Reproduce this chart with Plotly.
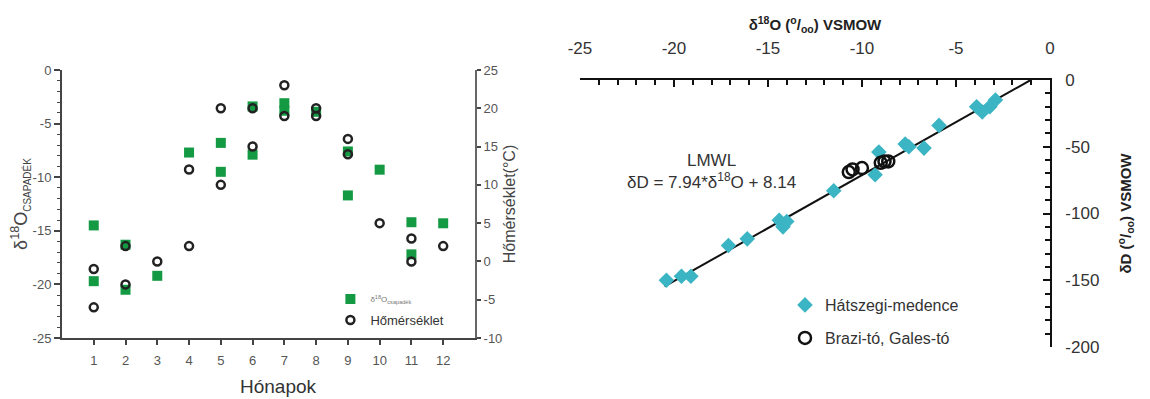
import plotly.graph_objects as go

# ---- Left chart data ----
month_o18 = [1, 1, 2, 2, 3, 4, 5, 5, 6, 6, 7, 7, 8, 9, 9, 10, 11, 11, 12]
o18_values = [-14.5, -19.7, -16.3, -20.5, -19.2, -7.7, -6.8, -9.5, -3.4, -7.9,
              -3.1, -3.8, -3.9, -7.6, -11.7, -9.3, -14.2, -17.2, -14.3]
month_temp = [1, 1, 2, 2, 3, 4, 4, 5, 5, 6, 6, 7, 7, 8, 8, 9, 9, 10, 11, 11, 12]
temp_values = [-1, -6, 2, -3, 0, 2, 12, 20, 10, 20, 15, 23, 19, 20, 19, 16, 14, 5, 3, 0, 2]
month_ticks = list(range(1, 13))

# ---- Right chart data ----
hatszeg_o18 = [-20.4, -19.6, -19.1, -17.1, -16.1, -14.4, -14.2, -14.0, -11.5, -9.3,
               -9.1, -7.7, -7.5, -6.7, -5.9, -3.9, -3.6, -3.2, -2.9]
hatszeg_dD = [-150, -147, -147, -124, -119, -105, -110, -106, -83, -71,
              -54, -48, -50, -51, -34, -20, -24, -20, -15]
brazi_o18 = [-10.7, -10.5, -10.0, -9.0, -8.8, -8.6]
brazi_dD = [-69, -67, -66, -62, -61, -61]
lmwl_slope = 7.94
lmwl_intercept = 8.14
lmwl_x = [-20.5, -1.03]
lmwl_y = [lmwl_slope * v + lmwl_intercept for v in lmwl_x]

x3_ticks = [-25, -20, -15, -10, -5, 0]
y3_ticks = [0, -50, -100, -150, -200]
y1_ticks = [0, -5, -10, -15, -20, -25]
y2_ticks = [25, 20, 15, 10, 5, 0, -5, -10]

FONT = "Liberation Sans, Arial, sans-serif"
GRAY = "#555555"

fig = go.Figure()

fig.add_trace(go.Scatter(
    x=month_o18, y=o18_values, mode="markers", xaxis="x", yaxis="y",
    name="δ<sup>18</sup>O<sub>csapadék</sub>", legend="legend",
    marker=dict(symbol="square", size=10, color="#139a43", line=dict(width=0)),
))
fig.add_trace(go.Scatter(
    x=month_temp, y=temp_values, mode="markers", xaxis="x", yaxis="y2",
    name="Hőmérséklet", legend="legend2",
    marker=dict(symbol="circle-open", size=8, color="#222222", line=dict(width=2.5)),
))

fig.add_trace(go.Scatter(
    x=lmwl_x, y=lmwl_y, mode="lines", xaxis="x3", yaxis="y3",
    line=dict(color="#111111", width=2), showlegend=False,
))
fig.add_trace(go.Scatter(
    x=hatszeg_o18, y=hatszeg_dD, mode="markers", xaxis="x3", yaxis="y3",
    name="Hátszegi-medence", legend="legend3",
    marker=dict(symbol="diamond", size=12, color="#3bb5c3", line=dict(width=0)),
))
fig.add_trace(go.Scatter(
    x=brazi_o18, y=brazi_dD, mode="markers", xaxis="x3", yaxis="y3",
    name="Brazi-tó, Gales-tó", legend="legend4",
    marker=dict(symbol="circle-open", size=12, color="#111111", line=dict(width=2.5)),
))

axis_common = dict(showgrid=False, zeroline=False, showline=True, automargin=False)

fig.update_layout(
    width=1150, height=399,
    margin=dict(l=0, r=0, t=0, b=0),
    paper_bgcolor="white", plot_bgcolor="white",
    font=dict(family=FONT, color="#333333"),
    xaxis=dict(
        **axis_common, domain=[0.0539, 0.413], range=[0, 13],
        tickvals=month_ticks, ticktext=[str(m) for m in month_ticks],
        ticks="outside", ticklen=5, tickwidth=1.5, tickcolor="#444",
        linecolor="#444", linewidth=2, anchor="y",
        tickfont=dict(size=13, color=GRAY),
        ticklabelstandoff=4,
    ),
    yaxis=dict(
        **axis_common, domain=[0.1529, 0.8246], range=[-25, 0],
        tickvals=y1_ticks, ticktext=[str(v) for v in y1_ticks],
        ticks="outside", ticklen=6, tickwidth=1.5, tickcolor="#444",
        minor=dict(dtick=1, ticks="outside", ticklen=3, tickcolor="#444", tickwidth=1),
        linecolor="#444", linewidth=2, anchor="x",
        tickfont=dict(size=13, color=GRAY),
        title=dict(text="δ<sup>18</sup>O<sub><span style='font-size:10px'>CSAPADÉK</span></sub>",
                   font=dict(size=18, color="#444"), standoff=0),
    ),
    yaxis2=dict(
        **axis_common, range=[-10, 25], overlaying="y", side="right", anchor="x",
        tickvals=y2_ticks, ticktext=[str(v) for v in y2_ticks],
        ticks="outside", ticklen=4, tickwidth=1.5, tickcolor="#444",
        linecolor="#666", linewidth=2,
        tickfont=dict(size=13, color=GRAY),
        title=dict(text="Hőmérséklet(°C)", font=dict(size=16, color="#444"), standoff=2),
    ),
    xaxis3=dict(
        **axis_common, domain=[0.5043, 0.913], range=[-25, 0], side="top", anchor="y3",
        tickvals=x3_ticks, ticktext=[str(v) for v in x3_ticks],
        ticks="inside", ticklen=7, tickwidth=2, tickcolor="#111",
        minor=dict(dtick=1, ticks="inside", ticklen=5, tickcolor="#111", tickwidth=1.5),
        linecolor="#111", linewidth=2,
        tickfont=dict(size=17, color="#333"),
        ticklabelstandoff=17,
        title=dict(text="<b>δ<sup>18</sup>O (<sup>o</sup>/<sub>oo</sub>) VSMOW</b>",
                   font=dict(size=15, color="#222"), standoff=5),
    ),
    yaxis3=dict(
        **axis_common, domain=[0.1303, 0.7995], range=[-200, 0], side="right", anchor="x3",
        tickvals=y3_ticks, ticktext=[str(v) for v in y3_ticks],
        ticks="inside", ticklen=7, tickwidth=2, tickcolor="#111",
        minor=dict(dtick=10, ticks="inside", ticklen=5, tickcolor="#111", tickwidth=1.5),
        linecolor="#111", linewidth=2,
        tickfont=dict(size=17, color="#333"),
        ticklabelstandoff=10,
        title=dict(text="<b>δD (<sup>o</sup>/<sub>oo</sub>) VSMOW</b>",
                   font=dict(size=15, color="#222"), standoff=22),
    ),
    legend=dict(x=0.2873, y=1 - 299 / 399, xanchor="left", yanchor="middle",
                font=dict(size=8, color="#777"), bgcolor="rgba(0,0,0,0)",
                itemwidth=30),
    legend2=dict(x=0.2873, y=1 - 320 / 399, xanchor="left", yanchor="middle",
                 font=dict(size=13, color="#333"), bgcolor="rgba(0,0,0,0)",
                 itemwidth=30),
    legend3=dict(x=0.6826, y=1 - 305 / 399, xanchor="left", yanchor="middle",
                 font=dict(size=16, color="#333"), bgcolor="rgba(0,0,0,0)",
                 itemwidth=30),
    legend4=dict(x=0.6826, y=1 - 338 / 399, xanchor="left", yanchor="middle",
                 font=dict(size=16, color="#333"), bgcolor="rgba(0,0,0,0)",
                 itemwidth=30),
    annotations=[
        dict(text="Hónapok", xref="paper", yref="paper", x=278 / 1150, y=1 - 386 / 399,
             showarrow=False, font=dict(size=19, color="#333"), xanchor="center", yanchor="middle"),
        dict(text="LMWL", xref="x3", yref="y3", x=-18.0, y=-60,
             showarrow=False, font=dict(size=17, color="#333"), xanchor="center", yanchor="middle"),
        dict(text="δD = 7.94*δ<sup>18</sup>O + 8.14", xref="x3", yref="y3", x=-18.0, y=-76,
             showarrow=False, font=dict(size=17, color="#333"), xanchor="center", yanchor="middle"),
    ],
)

fig.write_html("out.html")
